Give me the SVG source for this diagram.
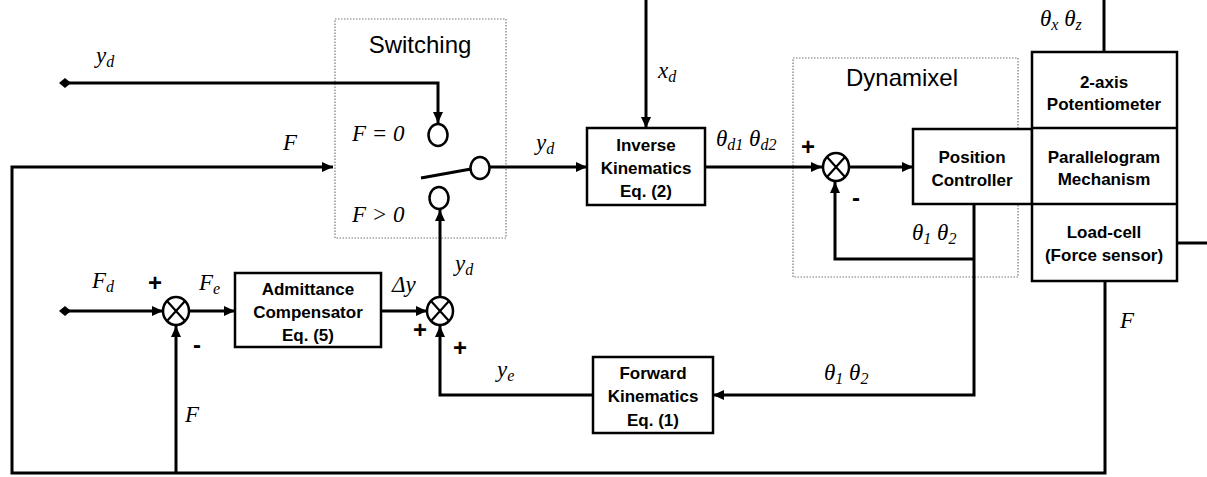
<svg xmlns="http://www.w3.org/2000/svg" width="1207" height="477" viewBox="0 0 1207 477">
<style>
.ln{fill:none;stroke:#000;stroke-width:3}
.box{fill:#fff;stroke:#000;stroke-width:2.5}
.dot{fill:none;stroke:#777;stroke-width:1.2;stroke-dasharray:1.5 1.5}
.bt{font-family:"Liberation Sans",Arial,sans-serif;font-weight:bold;font-size:17px;text-anchor:middle}
.tt{font-family:"Liberation Sans",Arial,sans-serif;font-size:24px;text-anchor:middle}
.m{font-family:"Liberation Serif","Times New Roman",serif;font-style:italic;font-size:23px}
.s{font-size:16px}
.pm{font-family:"Liberation Sans",Arial,sans-serif;font-weight:bold;font-size:24px;text-anchor:middle}
.sum{fill:#fff;stroke:#000;stroke-width:2.5}
</style>
<defs>
<marker id="ar" markerUnits="userSpaceOnUse" markerWidth="12" markerHeight="10" refX="11" refY="5" orient="auto">
<path d="M0,0 L11,5 L0,10 z" fill="#000"/>
</marker>
</defs>

<g id="switching">
<rect class="dot" x="335" y="19" width="171" height="219"/>
<text class="tt" x="420" y="53">Switching</text>
<ellipse cx="438" cy="135" rx="9.5" ry="11" fill="#fff" stroke="#000" stroke-width="2.5"/>
<ellipse cx="480" cy="168" rx="9.5" ry="11" fill="#fff" stroke="#000" stroke-width="2.5"/>
<ellipse cx="439" cy="198" rx="9.5" ry="11" fill="#fff" stroke="#000" stroke-width="2.5"/>
<line class="ln" x1="421" y1="178" x2="471" y2="169"/>
<text class="m" x="352" y="141">F = 0</text>
<text class="m" x="352" y="222">F &gt; 0</text>
</g>

<g id="dynamixel">
<rect class="dot" x="793" y="58" width="225" height="219"/>
<text class="tt" x="902" y="86">Dynamixel</text>
</g>

<g id="inverse-kinematics">
<rect class="box" x="587" y="128" width="118" height="77"/>
<text class="bt" x="646" y="151">Inverse</text>
<text class="bt" x="646" y="174">Kinematics</text>
<text class="bt" x="646" y="197">Eq. (2)</text>
</g>

<g id="position-controller">
<rect class="box" x="913" y="129" width="119" height="75"/>
<text class="bt" x="972" y="163">Position</text>
<text class="bt" x="972" y="186">Controller</text>
</g>

<g id="plant">
<rect class="box" x="1032" y="52" width="145" height="229"/>
<line x1="1032" y1="128" x2="1177" y2="128" stroke="#000" stroke-width="2.5"/>
<line x1="1032" y1="204" x2="1177" y2="204" stroke="#000" stroke-width="2.5"/>
<text class="bt" x="1104" y="88">2-axis</text>
<text class="bt" x="1104" y="110">Potentiometer</text>
<text class="bt" x="1104" y="163">Parallelogram</text>
<text class="bt" x="1104" y="185">Mechanism</text>
<text class="bt" x="1104" y="238">Load-cell</text>
<text class="bt" x="1104" y="261">(Force sensor)</text>
</g>

<g id="admittance">
<rect class="box" x="235" y="273" width="146" height="74"/>
<text class="bt" x="308" y="295">Admittance</text>
<text class="bt" x="308" y="318">Compensator</text>
<text class="bt" x="308" y="341">Eq. (5)</text>
</g>

<g id="forward-kinematics">
<rect class="box" x="593" y="357" width="120" height="76"/>
<text class="bt" x="653" y="379">Forward</text>
<text class="bt" x="653" y="402">Kinematics</text>
<text class="bt" x="653" y="426">Eq. (1)</text>
</g>

<g id="sum1">
<ellipse class="sum" cx="176" cy="311" rx="13" ry="14"/>
<path class="ln" style="stroke-width:2.2" d="M167,301 L185,321 M185,301 L167,321"/>
</g>
<g id="sum2">
<ellipse class="sum" cx="440" cy="311" rx="13" ry="14"/>
<path class="ln" style="stroke-width:2.2" d="M431,301 L449,321 M449,301 L431,321"/>
</g>
<g id="sum3">
<ellipse class="sum" cx="836" cy="167" rx="13" ry="14"/>
<path class="ln" style="stroke-width:2.2" d="M827,157 L845,177 M845,157 L827,177"/>
</g>

<g id="connectors">
<path class="ln" d="M65,83 H438 V123" marker-end="url(#ar)"/>
<path class="ln" d="M1105,281 V473 H12 V167 H333" marker-end="url(#ar)"/>
<path class="ln" d="M176,473 V326" marker-end="url(#ar)"/>
<path class="ln" d="M490,167 H587" marker-end="url(#ar)"/>
<path class="ln" d="M646,0 V128" marker-end="url(#ar)"/>
<path class="ln" d="M705,167 H822" marker-end="url(#ar)"/>
<path class="ln" d="M849,167 H913" marker-end="url(#ar)"/>
<path class="ln" d="M974,204 V395 H713" marker-end="url(#ar)"/>
<path class="ln" d="M974,259 H835 V182" marker-end="url(#ar)"/>
<path class="ln" d="M1104,0 V52"/>
<path class="ln" d="M1177,243 H1207"/>
<path class="ln" d="M65,311 H163" marker-end="url(#ar)"/>
<path class="ln" d="M189,311 H235" marker-end="url(#ar)"/>
<path class="ln" d="M381,311 H427" marker-end="url(#ar)"/>
<path class="ln" d="M440,297 V210" marker-end="url(#ar)"/>
<path class="ln" d="M593,395 H440 V326" marker-end="url(#ar)"/>
<path d="M59,83 L65,78 L71,83 L65,88 z" fill="#000"/>
<path d="M59,311 L65,306 L71,311 L65,316 z" fill="#000"/>
</g>

<g id="labels">
<text class="m" x="96" y="63">y<tspan class="s" dy="4">d</tspan></text>
<text class="m" x="283" y="150">F</text>
<text class="m" x="536" y="150">y<tspan class="s" dy="4">d</tspan></text>
<text class="m" x="658" y="78">x<tspan class="s" dy="4">d</tspan></text>
<text class="m" x="716" y="146">θ<tspan class="s" dy="4">d1</tspan><tspan dy="-4"> θ</tspan><tspan class="s" dy="4">d2</tspan></text>
<text class="m" x="1040" y="26">θ<tspan class="s" dy="4">x</tspan><tspan dy="-4"> θ</tspan><tspan class="s" dy="4">z</tspan></text>
<text class="m" x="912" y="240">θ<tspan class="s" dy="4">1</tspan><tspan dy="-4"> θ</tspan><tspan class="s" dy="4">2</tspan></text>
<text class="m" x="824" y="380">θ<tspan class="s" dy="4">1</tspan><tspan dy="-4"> θ</tspan><tspan class="s" dy="4">2</tspan></text>
<text class="m" x="1120" y="328">F</text>
<text class="m" x="92" y="288">F<tspan class="s" dy="4">d</tspan></text>
<text class="m" x="199" y="290">F<tspan class="s" dy="4">e</tspan></text>
<text class="m" x="392" y="292">Δy</text>
<text class="m" x="455" y="271">y<tspan class="s" dy="4">d</tspan></text>
<text class="m" x="497" y="377">y<tspan class="s" dy="4">e</tspan></text>
<text class="m" x="185" y="422">F</text>
<text class="pm" x="155" y="291">+</text>
<text class="pm" x="197" y="353">-</text>
<text class="pm" x="420" y="338">+</text>
<text class="pm" x="460" y="356">+</text>
<text class="pm" x="808" y="155">+</text>
<text class="pm" x="856" y="206">-</text>
</g>
</svg>
